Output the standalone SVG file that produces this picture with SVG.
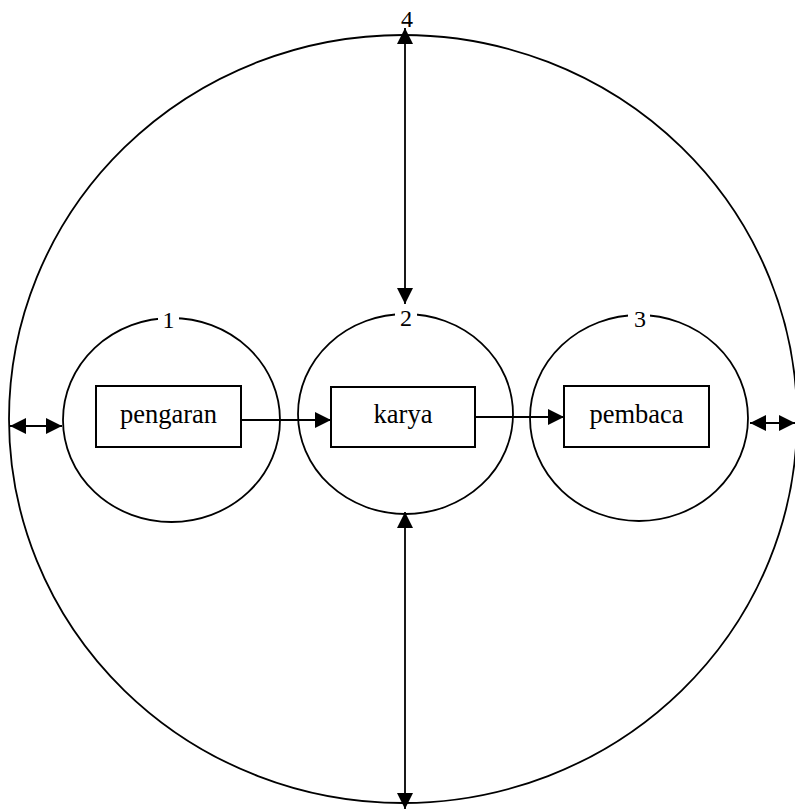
<svg xmlns="http://www.w3.org/2000/svg" width="795" height="810" viewBox="0 0 795 810">
<style>
.ring{fill:none;stroke:#000;stroke-width:1.8}
.box{fill:#fff;stroke:#000;stroke-width:2}
.lbl{font-family:"Liberation Serif",serif;font-size:26.5px;fill:#000;text-anchor:middle}
.num{font-family:"Liberation Serif",serif;font-size:24px;fill:#000;text-anchor:middle}
.cn{stroke:#000;stroke-width:1.8;fill:none}
</style>
<defs>
<marker id="ah" viewBox="0 0 10 10" refX="10" refY="5" markerWidth="16" markerHeight="16" markerUnits="userSpaceOnUse" orient="auto-start-reverse">
<path d="M0,0 L10,5 L0,10 Z" fill="#000"/>
</marker>
</defs>
<rect width="795" height="810" fill="#fff"/>
<g id="outer">
<ellipse class="ring" cx="403" cy="419" rx="394" ry="384"/>
<rect x="397" y="6" width="20" height="24" fill="#fff"/>
<text class="num" x="407" y="27">4</text>
</g>
<g id="circle1">
<ellipse class="ring" cx="171.5" cy="420" rx="108.5" ry="102"/>
<rect x="158" y="306" width="21" height="24" fill="#fff"/>
<text class="num" x="168.5" y="328">1</text>
</g>
<g id="circle2">
<ellipse class="ring" cx="405.5" cy="414" rx="107.5" ry="100"/>
<rect x="395" y="305" width="22" height="22" fill="#fff"/>
<text class="num" x="406" y="326">2</text>
</g>
<g id="circle3">
<ellipse class="ring" cx="639" cy="418" rx="109" ry="103"/>
<rect x="628" y="306" width="22" height="22" fill="#fff"/>
<text class="num" x="640" y="327">3</text>
</g>
<g id="connectors">
<line class="cn" x1="10" y1="426" x2="62" y2="426" marker-start="url(#ah)" marker-end="url(#ah)"/>
<line class="cn" x1="750" y1="423" x2="795" y2="423" marker-start="url(#ah)" marker-end="url(#ah)"/>
<line class="cn" x1="405" y1="28" x2="405" y2="304" marker-start="url(#ah)" marker-end="url(#ah)"/>
<line class="cn" x1="405" y1="512" x2="405" y2="809" marker-start="url(#ah)" marker-end="url(#ah)"/>
<line class="cn" x1="241" y1="420" x2="331" y2="420" marker-end="url(#ah)"/>
<line class="cn" x1="475" y1="417" x2="564" y2="417" marker-end="url(#ah)"/>
</g>
<g id="pengaran">
<rect class="box" x="96" y="386" width="145" height="61"/>
<text class="lbl" x="168.5" y="423">pengaran</text>
</g>
<g id="karya">
<rect class="box" x="331" y="387" width="144" height="60"/>
<text class="lbl" x="403" y="423">karya</text>
</g>
<g id="pembaca">
<rect class="box" x="564" y="386" width="145" height="61"/>
<text class="lbl" x="636.5" y="423">pembaca</text>
</g>
</svg>
